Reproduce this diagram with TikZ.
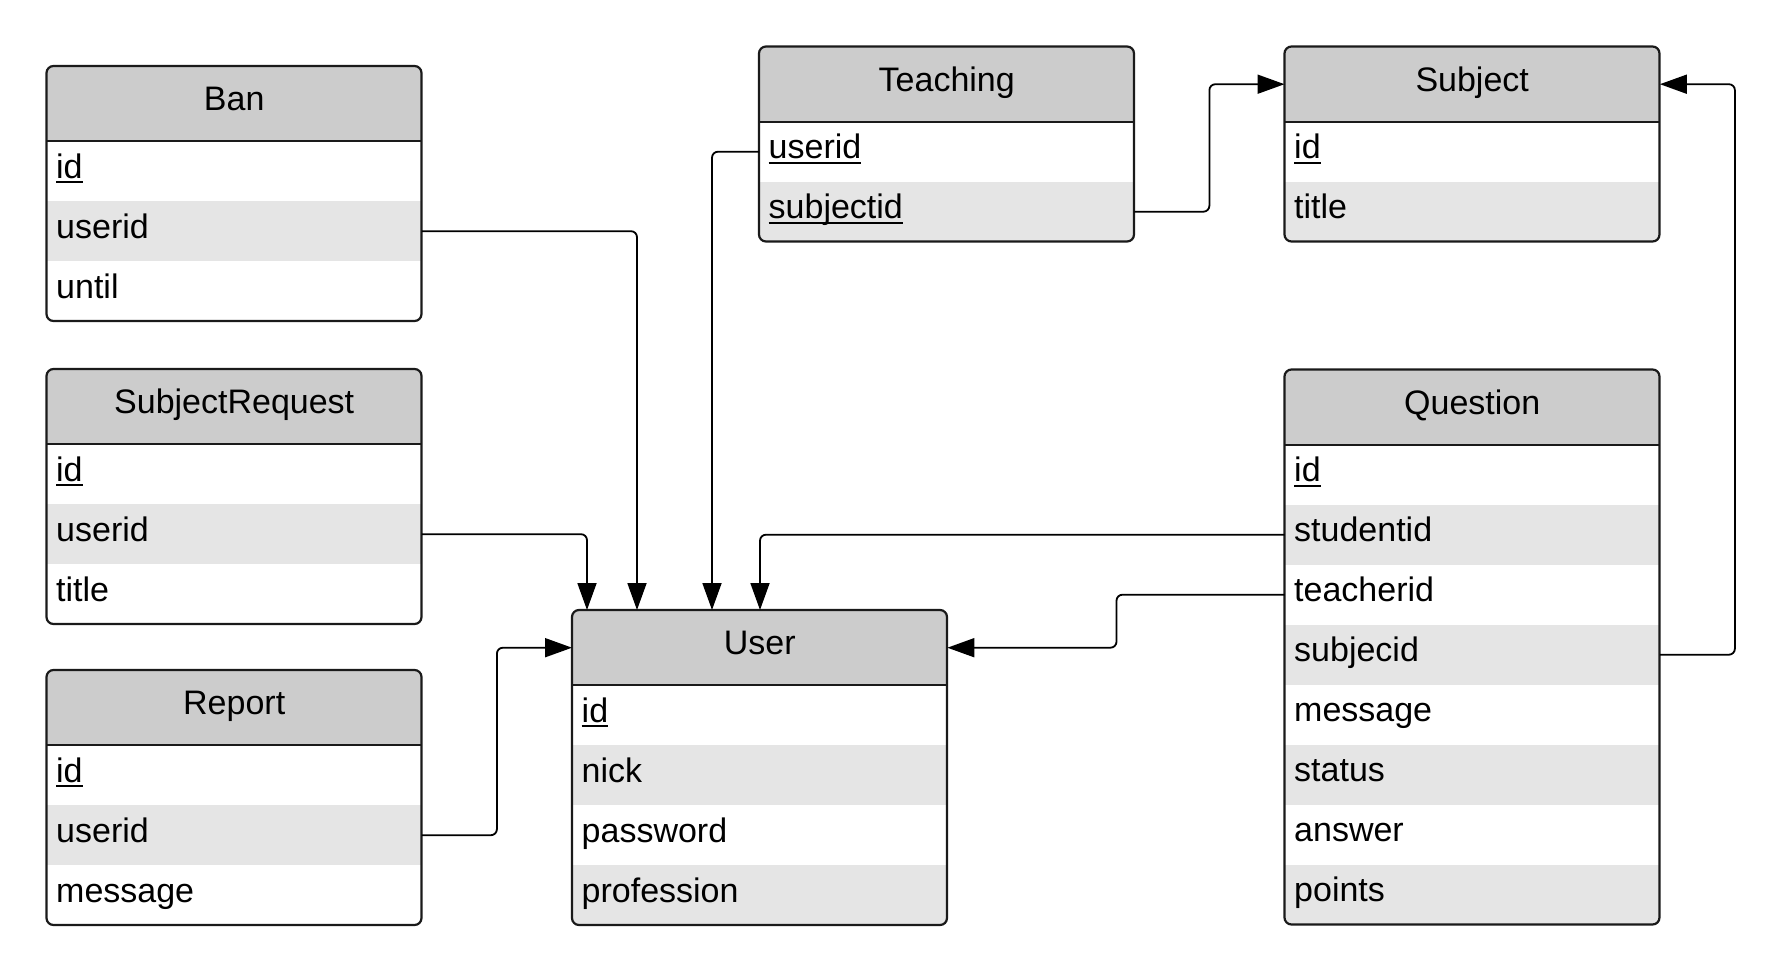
\documentclass[tikz,border=0pt]{standalone}
\usepackage{fontspec}
\setmainfont{Liberation Sans}
\usetikzlibrary{arrows.meta}
\definecolor{hdrgray}{HTML}{CCCCCC}
\definecolor{rowgray}{HTML}{E5E5E5}
\definecolor{edgecol}{HTML}{1A1A1A}
\newcommand\keyu[1]{\setbox0\hbox{#1}\rlap{\rule[-5pt]{\wd0}{2pt}}\box0}
\tikzset{
  cellbox/.style={anchor=north west, minimum height=60pt, text width=356pt, inner xsep=9.5pt, inner ysep=0pt, text height=24pt, text depth=9.5pt, font=\fontsize{34pt}{40pt}\selectfont, align=left},
  hdrbox/.style={cellbox, minimum height=75pt, align=center, fill=hdrgray},
  conn/.style={draw=black, line width=1.8pt, rounded corners=6pt, -{Triangle[length=27pt,width=19pt]}},
  framebox/.style={draw=edgecol, line width=2.2pt, rounded corners=7pt},
}
\newcommand\ertable[6]{%
  \begin{scope}
    \clip[rounded corners=7pt] (#2,#3) rectangle ++(375,75+#4*60);
    \node[hdrbox] (#1-h) at (#2,#3) {#5};
    \foreach \t [count=\i] in {#6} {
      \ifodd\i \def\rowcol{white}\else\def\rowcol{rowgray}\fi
      \node[cellbox, fill=\rowcol] (#1-\i) at (#2,#3+15+\i*60) {\t};
    }
  \end{scope}
  \draw[edgecol, line width=2pt] (#1-h.south west) -- (#1-h.south east);
  \draw[framebox] (#2,#3) rectangle ++(375,75+#4*60);
}
\begin{document}
\begin{tikzpicture}[x=1pt,y=-1pt]
\useasboundingbox (0,0) rectangle (1778,969);
\ertable{ban}{46.5}{66}{3}{Ban}{{\keyu{id}},userid,until}
\ertable{sr}{46.5}{369}{3}{SubjectRequest}{{\keyu{id}},userid,title}
\ertable{rep}{46.5}{670}{3}{Report}{{\keyu{id}},userid,message}
\ertable{user}{572}{610}{4}{User}{{\keyu{id}},nick,password,profession}
\ertable{teach}{759}{46.5}{2}{Teaching}{{\keyu{userid}},{\keyu{subjectid}}}
\ertable{subj}{1284.5}{46.5}{2}{Subject}{{\keyu{id}},title}
\ertable{q}{1284.5}{369.5}{8}{Question}{{\keyu{id}},studentid,teacherid,subjecid,message,status,answer,points}

\draw[conn] (ban-2.east) -| ([xshift=65pt]user-h.north west);
\draw[conn] (sr-2.east) -| ([xshift=15pt]user-h.north west);
\draw[conn] (rep-2.east) -- ++(75,0) |- (user-h.west);
\draw[conn] (teach-1.west) -| ([xshift=140pt]user-h.north west);
\draw[conn] (teach-2.east) -- ++(75,0) |- (subj-h.west);
\draw[conn] (q-2.west) -| ([xshift=188pt]user-h.north west);
\draw[conn] (q-3.west) -- ++(-168,0) |- (user-h.east);
\draw[conn] (q-4.east) -- ++(75,0) |- (subj-h.east);
\end{tikzpicture}
\end{document}
